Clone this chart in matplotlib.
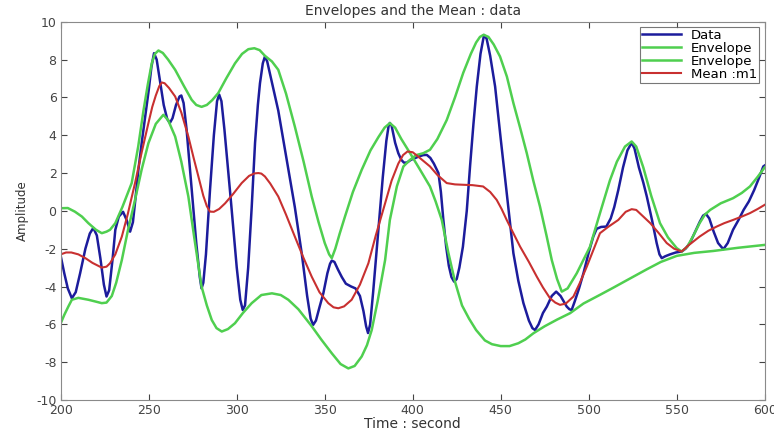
import numpy as np
import matplotlib
matplotlib.use("Agg")
import matplotlib.pyplot as plt

plt.rcParams['font.family'] = ['DejaVu Sans']
plt.rcParams['axes.unicode_minus'] = False

# values
data_t = [200, 202, 204, 206.3, 208.5, 211, 214, 216.5, 218.5, 220.5, 222.5, 224.5, 226, 227.5,
          229.5, 231, 233, 235.4, 237.5, 239.4, 241, 242.5, 244.1, 246, 248, 250, 251.5, 253,
          254.5, 256.5, 258.5, 260.5, 262, 263.5, 265.5, 267.5, 268.5, 269.8, 271.5, 274.4, 277,
          279, 280, 281, 282.5, 284.8, 287, 288.8, 290, 291.3, 293, 296.8, 300, 302, 303.4,
          304.7, 306.5, 308.5, 310.4, 312, 313.2, 314.8, 316, 317.3, 319, 321, 323.6, 328, 333,
          337, 340, 342, 343.4, 345, 347, 349.2, 351.5, 353, 354, 355.5, 357.5, 359.7, 362, 365,
          367.5, 370, 372, 373.5, 374.6, 375.8, 377.5, 380.5, 383, 385, 386.3, 387, 388, 390,
          391.8, 393.5, 395, 396.6, 399, 403.3, 406, 408, 410, 412, 414.6, 416, 417.4, 419,
          420.5, 422, 423.5, 425, 426.5, 428.5, 430.7, 432.6, 434.5, 436.4, 438.5, 440.5, 442,
          444, 446.8, 450, 453.4, 455.5, 457.2, 460, 462.9, 466, 468, 469.5, 471.5, 474, 476.2,
          479, 481.5, 484, 487.5, 489, 490.3, 492, 494.5, 497, 500, 502.6, 504.5, 507, 510,
          512.5, 514.5, 516.8, 519.5, 522, 524.4, 526, 528.5, 531, 533, 536, 538.6, 540.2, 541.5,
          543.5, 546.2, 549.5, 552.8, 555, 557.5, 560, 563, 565, 566.6, 568.5, 571, 573.5, 576.5,
          579, 582, 585, 588, 591, 594, 597, 599.2, 600]
data_y = [-2.4, -3.3, -4.1, -4.62, -4.3, -3.3, -2.0, -1.2, -0.9, -1.3, -2.5, -3.9, -4.53, -4.2,
          -2.5, -1.0, -0.3, -0.05, -0.5, -1.1, -0.6, 0.7, 2.17, 3.6, 5.0, 6.4, 7.6, 8.34,
          8.0, 6.8, 5.6, 4.85, 4.65, 4.9, 5.6, 6.05, 6.1, 5.7, 4.3, 1.1, -1.7,
          -3.5, -4.1, -3.8, -2.3, 1.1, 4.0, 5.8, 6.15, 5.8, 4.3, 0.4, -3.0, -4.7, -5.24,
          -5.0, -3.0, 0.2, 3.6, 5.6, 6.75, 7.8, 8.16, 7.9, 7.2, 6.4, 5.3, 2.9, 0.2,
          -2.3, -4.5, -5.7, -6.03, -5.8, -5.1, -4.36, -3.3, -2.8, -2.63, -2.7, -3.1, -3.5, -3.85, -4.0,
          -4.1, -4.5, -5.3, -6.1, -6.46, -6.0, -4.3, -1.0, 1.8, 3.7, 4.5, 4.65, 4.5, 3.6,
          3.05, 2.7, 2.55, 2.55, 2.7, 2.87, 2.95, 2.96, 2.8, 2.5, 2.0, 1.0, -0.48, -1.9,
          -2.9, -3.5, -3.74, -3.6, -3.0, -1.9, 0.0, 2.4, 4.6, 6.58, 8.3, 9.3, 9.1,
          8.2, 6.58, 3.8, 0.94, -0.8, -2.24, -3.7, -4.88, -5.8, -6.2, -6.3, -6.0, -5.4, -5.06,
          -4.5, -4.27, -4.5, -5.06, -5.2, -5.24, -4.8, -4.1, -3.3, -2.2, -1.36, -0.95, -0.85, -0.83,
          -0.4, 0.2, 1.1, 2.3, 3.2, 3.6, 3.3, 2.3, 1.5, 0.76, -0.5, -1.7, -2.3, -2.5,
          -2.4, -2.3, -2.2, -2.15, -2.0, -1.7, -1.2, -0.6, -0.25, -0.16, -0.4, -1.1, -1.7, -2.03,
          -1.7, -1.0, -0.5, 0.05, 0.5, 1.1, 1.8, 2.35, 2.4]

env1_t = [200, 204, 208, 212, 215.7, 220, 223.3, 226, 228, 231, 235, 240.3, 244, 247, 249.5,
          251.7, 253.5, 255.5, 258, 261, 265, 270, 274.4, 277, 280, 283, 286, 289.5, 294, 299,
          303, 306.6, 310, 313, 316, 320, 323.6, 328, 333, 338, 342.6, 346.5, 350, 352.5, 354,
          356, 358.5, 361.5, 366, 371, 376, 380.5, 384, 387, 390, 393.5, 398.5, 404, 409.8, 413,
          416.5, 420.2, 424, 428, 432, 436, 441, 445, 450, 455, 460, 464, 468.6, 475, 482,
          489.4, 497, 506.4, 514, 523, 533, 541, 550, 560, 570.8, 585, 600]
env1_y = [0.14, 0.15, -0.04, -0.3, -0.65, -1.0, -1.18, -1.1, -1.0, -0.65, 0.2, 1.47, 3.4, 5.3, 6.7,
          7.8, 8.3, 8.48, 8.35, 8.0, 7.46, 6.6, 5.87, 5.6, 5.5, 5.6, 5.85, 6.23, 7.0, 7.8,
          8.3, 8.55, 8.6, 8.5, 8.2, 7.9, 7.46, 6.2, 4.46, 2.6, 0.76, -0.6, -1.7, -2.3, -2.5,
          -2.0, -1.2, -0.3, 1.0, 2.17, 3.2, 3.9, 4.4, 4.64, 4.4, 3.8, 3.05, 2.2, 1.29, 0.5,
          -0.48, -2.2, -3.74, -5.0, -5.7, -6.3, -6.85, -7.05, -7.15, -7.15, -7.0, -6.8, -6.47,
          -6.1, -5.75, -5.41, -4.9, -4.44, -4.06, -3.6, -3.09, -2.7, -2.38, -2.22, -2.12, -1.95,
          -1.8]

env2_t = [200, 202, 204.3, 206.3, 210, 215.7, 220, 223.3, 226, 229, 231.5, 234.7, 238, 242.2,
          246, 249.8, 254, 258.3, 261, 265, 268.5, 272.5, 276, 280, 283, 285.8, 288.5, 291.5,
          295, 299, 303.5, 308.5, 314, 320, 325, 329.3, 335, 342.6, 348, 354, 359, 363.4, 367,
          371, 374, 376.7, 380, 384.3, 387, 391, 394.7, 398.5, 402, 406, 409.8, 414, 419.3,
          424, 428.7, 433, 436, 438.2, 440.3, 443, 446, 449.6, 453.5, 457.2, 461, 464.8, 468.5,
          472.3, 476, 479, 482, 484.7, 488, 493.2, 500.7, 506.4, 512, 516, 520.6, 524.4, 527,
          531, 535.5, 540.5, 545, 550, 552.8, 556, 559.5, 563, 566, 569, 575, 582, 587, 591.6,
          596, 600]
env2_y = [-5.94, -5.5, -5.06, -4.7, -4.6, -4.7, -4.8, -4.88, -4.85, -4.5, -3.8, -2.6, -1.1, 0.58,
          2.2, 3.58, 4.6, 5.08, 4.8, 3.93, 2.6, 0.76, -1.5, -4.0, -5.0, -5.77, -6.2, -6.38,
          -6.25, -5.94, -5.4, -4.88, -4.45, -4.36, -4.45, -4.7, -5.2, -6.1, -6.8, -7.53, -8.1,
          -8.33, -8.2, -7.7, -7.1, -6.3, -4.8, -2.6, -0.48, 1.3, 2.35, 2.7, 2.95, 3.05, 3.23,
          3.8, 4.8, 6.0, 7.3, 8.3, 8.9, 9.2, 9.31, 9.2, 8.8, 8.16, 7.1, 5.7, 4.4, 3.05, 1.6,
          0.23, -1.3, -2.6, -3.6, -4.27, -4.1, -3.3, -1.9, -0.12, 1.6, 2.6, 3.4, 3.67, 3.4,
          2.3, 0.8, -0.65, -1.4, -1.97, -2.15, -1.9, -1.3, -0.65, -0.2, 0.05, 0.4, 0.67, 0.95,
          1.29, 1.8, 2.3]

mean_t = [200, 203, 206, 210, 214, 218, 223.3, 226, 228, 231, 234.7, 238, 242.2, 246, 249.8,
          252, 254, 256, 257.4, 259, 261.5, 265, 268.5, 272.5, 275.5, 278.2, 281, 283, 284.8,
          287, 290, 293.4, 298, 302.8, 307, 310, 312.3, 314, 316, 319, 323.6, 328, 333, 338,
          342.6, 347, 352, 355, 357.7, 361, 365.3, 370, 374.8, 379, 384.3, 388, 391.8, 394.5,
          397, 400, 404, 409.8, 414, 419.3, 424, 428.7, 434, 440, 444, 447.7, 450.5, 453.4, 457,
          461, 466, 470.5, 474, 478, 481, 483.7, 487, 491.3, 495, 498.9, 502.5, 506.4, 511,
          516.8, 521, 524.4, 527, 531, 535, 540, 544.3, 548.5, 552.8, 557, 563, 568, 572.7, 577,
          582, 587, 591.6, 596, 600]
mean_y = [-2.3, -2.2, -2.2, -2.3, -2.5, -2.75, -3.0, -2.95, -2.77, -2.3, -1.36, -0.2, 1.47, 3.1,
          4.64, 5.5, 6.1, 6.6, 6.79, 6.75, 6.5, 6.05, 5.2, 3.93, 2.8, 1.82, 0.8, 0.25, -0.04,
          -0.05, 0.1, 0.4, 0.9, 1.47, 1.85, 1.98, 2.0, 1.97, 1.82, 1.45, 0.76, -0.2, -1.36, -2.5,
          -3.48, -4.3, -4.88, -5.1, -5.15, -5.05, -4.7, -3.9, -2.77, -1.3, 0.4, 1.6, 2.5, 2.95,
          3.14, 3.1, 2.8, 2.35, 1.9, 1.47, 1.4, 1.38, 1.36, 1.29, 1.0, 0.58, 0.1, -0.48, -1.15,
          -1.89, -2.7, -3.48, -4.05, -4.62, -4.85, -4.97, -4.9, -4.53, -3.8, -2.95, -2.1, -1.18,
          -0.85, -0.48, -0.05, 0.09, 0.05, -0.3, -0.65, -1.2, -1.7, -2.0, -2.15, -1.8, -1.36,
          -1.05, -0.83, -0.65, -0.48, -0.3, -0.12, 0.1, 0.32]

fig = plt.figure(figsize=(7.74, 4.36), dpi=100)
ax = fig.add_axes([0.0785, 0.0826, 0.9095, 0.8675])

ax.plot(data_t, data_y, color='#1c1c9c', lw=1.8, label='Data')
ax.plot(env1_t, env1_y, color='#4fcf4f', lw=1.8, label='Envelope')
ax.plot(env2_t, env2_y, color='#4fcf4f', lw=1.8, label='Envelope')
ax.plot(mean_t, mean_y, color='#c83030', lw=1.5, label='Mean :m1')

ax.set_xlim(200, 600)
ax.set_ylim(-10, 10)
ax.set_xticks(np.arange(200, 601, 50))
ax.set_yticks(np.arange(-10, 11, 2))
ax.tick_params(direction='in', top=True, right=True, labelsize=9, colors='#444444',
               length=4, pad=3)
for s in ax.spines.values():
    s.set_color('#8a8a8a')

ax.set_title('Envelopes and the Mean : data', fontsize=10, pad=5, color='#333333')
ax.set_xlabel('Time : second', fontsize=10, labelpad=0, color='#333333')
ax.set_ylabel('Amplitude', fontsize=8.5, labelpad=5, color='#333333')

leg = ax.legend(loc='upper right', fontsize=9.5, frameon=True, fancybox=False,
                borderpad=0.15, labelspacing=0.0, handlelength=2.9, handletextpad=0.8,
                borderaxespad=0.4)
leg.get_frame().set_edgecolor('#555555')
leg.get_frame().set_linewidth(0.8)

fig.savefig('out.png', dpi=100)
